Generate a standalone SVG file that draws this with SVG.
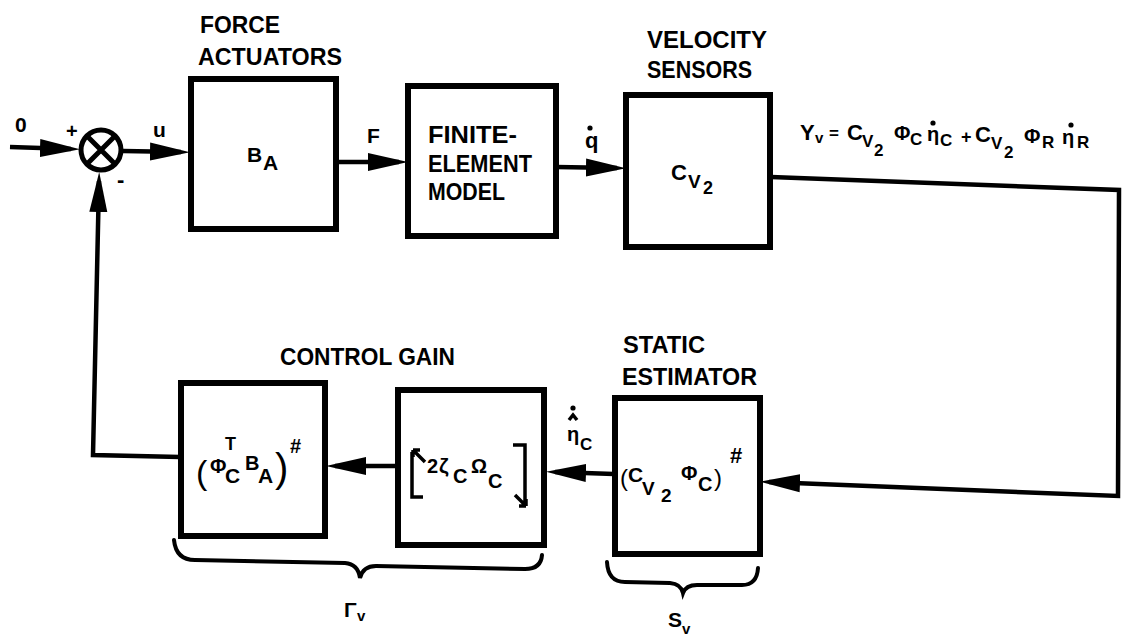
<svg xmlns="http://www.w3.org/2000/svg" width="1124" height="636" viewBox="0 0 1124 636">
<defs>
<style>
.box{fill:#fff;stroke:#000;stroke-width:6}
.wire{fill:none;stroke:#000;stroke-width:4.5;stroke-linejoin:miter}
.t{font-family:"Liberation Sans",Arial,sans-serif;font-weight:bold;fill:#000}
.lbl{font-size:23px}
.m{font-size:22px}
.s{font-size:17px}
.brace{fill:none;stroke:#000;stroke-width:4;stroke-linecap:round}
.dot{fill:#000}
.mark{fill:none;stroke:#000;stroke-width:3.5}
</style>
<marker id="ah" markerUnits="userSpaceOnUse" markerWidth="42" markerHeight="22" refX="31" refY="10" orient="auto">
<path d="M0,1 L40,10 L0,19 Z" fill="#000"/>
</marker>
</defs>
<rect width="1124" height="636" fill="#fff"/>

<g id="connectors">
<path class="wire" d="M10 147 L71 149" marker-end="url(#ah)"/>
<path class="wire" d="M123 151 L181 152" marker-end="url(#ah)"/>
<path class="wire" d="M338 162 L399 162" marker-end="url(#ah)"/>
<path class="wire" d="M556 167 L617 168" marker-end="url(#ah)"/>
<path class="wire" d="M771 177 L1119 190 L1118 496 L769 482" marker-end="url(#ah)"/>
<path class="wire" d="M614 474 L555 472" marker-end="url(#ah)"/>
<path class="wire" d="M397 466 L335 466" marker-end="url(#ah)"/>
<path class="wire" d="M180 457 L93 455 L99 181" marker-end="url(#ah)"/>
<text class="t" x="15" y="132" font-size="21">0</text>
<text class="t" x="66" y="138" font-size="20">+</text>
<text class="t" x="117" y="187" font-size="22">-</text>
<text class="t" x="153" y="137" font-size="21">u</text>
<text class="t" x="367" y="143" font-size="21">F</text>
<text class="t" x="585" y="148" font-size="22">q</text>
<circle class="dot" cx="590" cy="128" r="2.6"/>
<text class="t m" x="800" y="140">Y</text>
<text class="t" x="815" y="143" font-size="15">v</text>
<text class="t" x="829" y="139" font-size="17">=</text>
<text class="t m" x="847" y="140">C</text>
<text class="t s" x="862" y="147">V</text>
<text class="t s" x="874" y="156">2</text>
<text class="t" x="894" y="140" font-size="20">Φ</text>
<text class="t s" x="910" y="145">C</text>
<text class="t" x="927" y="141" font-size="20">η</text>
<circle class="dot" cx="933" cy="123" r="2.6"/>
<text class="t s" x="940" y="146">C</text>
<text class="t" x="961" y="143" font-size="18">+</text>
<text class="t m" x="975" y="142">C</text>
<text class="t s" x="991" y="149">V</text>
<text class="t s" x="1004" y="158">2</text>
<text class="t" x="1024" y="143" font-size="20">Φ</text>
<text class="t s" x="1042" y="148">R</text>
<text class="t" x="1062" y="144" font-size="20">η</text>
<circle class="dot" cx="1071" cy="125" r="2.6"/>
<text class="t s" x="1077" y="148">R</text>
<circle class="dot" cx="573" cy="408" r="2.6"/>
<path class="mark" d="M569 420 L573 415 L577 420" stroke-width="2.5"/>
<text class="t" x="567" y="441" font-size="20">η</text>
<text class="t s" x="580" y="450">C</text>
</g>

<g id="sum">
<circle cx="101" cy="150" r="20" fill="#fff" stroke="#000" stroke-width="5"/>
<path d="M87 136 L115 164 M115 136 L87 164" stroke="#000" stroke-width="5"/>
</g>

<g id="force-actuators">
<text class="t lbl" x="200" y="33" textLength="80" lengthAdjust="spacingAndGlyphs">FORCE</text>
<text class="t lbl" x="198" y="65" textLength="144" lengthAdjust="spacingAndGlyphs">ACTUATORS</text>
<rect class="box" x="191" y="79" width="145" height="150"/>
<text class="t" x="247" y="162" font-size="21">B</text>
<text class="t" x="263" y="170" font-size="21">A</text>
</g>

<g id="finite-element-model">
<rect class="box" x="408" y="86" width="148" height="150"/>
<text class="t lbl" x="428" y="143" textLength="89" lengthAdjust="spacingAndGlyphs">FINITE-</text>
<text class="t lbl" x="428" y="172" textLength="104" lengthAdjust="spacingAndGlyphs">ELEMENT</text>
<text class="t lbl" x="428" y="200" textLength="77" lengthAdjust="spacingAndGlyphs">MODEL</text>
</g>

<g id="velocity-sensors">
<text class="t lbl" x="647" y="48" textLength="120" lengthAdjust="spacingAndGlyphs">VELOCITY</text>
<text class="t lbl" x="647" y="78" textLength="105" lengthAdjust="spacingAndGlyphs">SENSORS</text>
<rect class="box" x="626" y="95" width="144" height="152"/>
<text class="t m" x="671" y="180">C</text>
<text class="t" x="688" y="188" font-size="19">V</text>
<text class="t" x="703" y="194" font-size="18">2</text>
</g>

<g id="control-gain-b">
<text class="t lbl" x="280" y="365" textLength="175" lengthAdjust="spacingAndGlyphs">CONTROL GAIN</text>
<rect class="box" x="181" y="383" width="144" height="153"/>
<text class="t" x="196" y="484" font-size="34" style="font-weight:normal">(</text>
<text class="t" x="210" y="473" font-size="20">Φ</text>
<text class="t" x="225" y="450" font-size="18">T</text>
<text class="t" x="225" y="483" font-size="21">C</text>
<text class="t" x="245" y="470" font-size="20">B</text>
<text class="t" x="258" y="483" font-size="21">A</text>
<text class="t" x="275" y="482" font-size="40" style="font-weight:normal">)</text>
<text class="t" x="290" y="453" font-size="20">#</text>
</g>

<g id="control-gain-zeta">
<rect class="box" x="398" y="390" width="146" height="155"/>
<path class="mark" d="M425 462 L413 450 M413 450 L413 457 M413 450 L420 450 M412 452 L412 497 L423 497"/>
<path class="mark" d="M513 445 L525 445 L525 505 M515 495 L526 506 M526 506 L526 499 M526 506 L519 506"/>
<text class="t" x="427" y="473" font-size="20">2</text>
<text class="t" x="439" y="473" font-size="21">ζ</text>
<text class="t" x="453" y="483" font-size="20">C</text>
<text class="t" x="471" y="473" font-size="20">Ω</text>
<text class="t" x="488" y="488" font-size="20">C</text>
</g>

<g id="static-estimator">
<text class="t lbl" x="623" y="353" textLength="82" lengthAdjust="spacingAndGlyphs">STATIC</text>
<text class="t lbl" x="622" y="385" textLength="135" lengthAdjust="spacingAndGlyphs">ESTIMATOR</text>
<rect class="box" x="615" y="398" width="145" height="156"/>
<text class="t" x="620" y="486" font-size="24" style="font-weight:normal">(</text>
<text class="t" x="628" y="482" font-size="21">C</text>
<text class="t" x="642" y="495" font-size="19">V</text>
<text class="t" x="661" y="502" font-size="19">2</text>
<text class="t" x="681" y="480" font-size="20">Φ</text>
<text class="t" x="698" y="491" font-size="20">C</text>
<text class="t" x="714" y="486" font-size="24" style="font-weight:normal">)</text>
<text class="t" x="730" y="463" font-size="22">#</text>
</g>

<g id="gamma-v">
<path class="brace" d="M174 540 Q176 560 195 560 L345 563 Q358 564 360 578 Q363 566 376 566 L525 569 Q541 569 542 555"/>
<text class="t" x="344" y="617" font-size="21">Γ</text>
<text class="t" x="357" y="621" font-size="15">v</text>
</g>

<g id="s-v">
<path class="brace" d="M607 562 Q608 582 625 582 L670 583 Q681 584 683 593 Q686 585 697 585 L742 585 Q757 585 758 568"/>
<text class="t" x="668" y="627" font-size="21">S</text>
<text class="t" x="682" y="634" font-size="15">v</text>
</g>
</svg>
